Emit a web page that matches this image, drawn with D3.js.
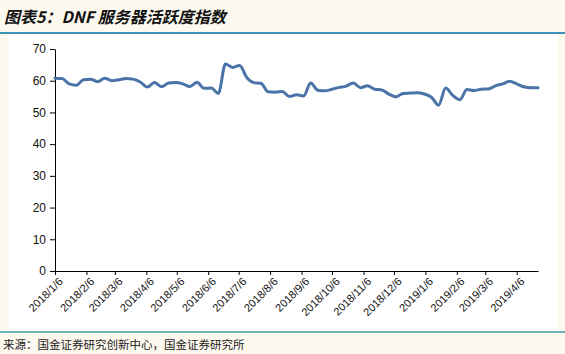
<!DOCTYPE html>
<html>
<head>
<meta charset="utf-8">
<script src="https://cdn.jsdelivr.net/npm/d3@7"></script>
<style>
  body { margin: 0; background: #fdf9ef; }
  svg { display: block; }
</style>
</head>
<body>
<div id="chart"></div>
<script>
// weekly series, starting 2018/1/6
const startDate = "2018-01-06";
const activity = [
  60.8, 60.7, 59.0, 58.6, 60.3, 60.5, 59.7, 60.8, 60.0, 60.3,
  60.7, 60.5, 59.6, 58.0, 59.4, 58.1, 59.3, 59.4, 59.0, 58.2,
  59.5, 57.6, 57.7, 56.0, 65.3, 64.2, 64.8, 61.0, 59.4, 59.2,
  56.5, 56.4, 56.6, 55.0, 55.6, 55.2, 59.3, 57.0, 56.8, 57.3,
  57.9, 58.3, 59.3, 57.8, 58.4, 57.3, 57.1, 55.8, 54.9, 56.0,
  56.1, 56.2, 55.8, 54.8, 52.3, 57.7, 55.4, 54.0, 57.2, 56.9,
  57.3, 57.4, 58.4, 59.0, 59.8, 59.0, 58.1, 57.8, 57.8
];
const xTicks = [
  "2018-01-06", "2018-02-06", "2018-03-06", "2018-04-06", "2018-05-06",
  "2018-06-06", "2018-07-06", "2018-08-06", "2018-09-06", "2018-10-06",
  "2018-11-06", "2018-12-06", "2019-01-06", "2019-02-06", "2019-03-06",
  "2019-04-06"
];
const yTicks = [0, 10, 20, 30, 40, 50, 60, 70];

const titleText = "图表5：DNF 服务器活跃度指数";
const sourceText = "来源：国金证券研究创新中心，国金证券研究所";

const width = 565, height = 354;
const margin = { top: 49, right: 27, bottom: 83, left: 55 };

const parse = d3.utcParse("%Y-%m-%d");
const t0 = parse(startDate);
const data = activity.map((v, i) => ({ date: d3.utcDay.offset(t0, i * 7), value: v }));
const tickDates = xTicks.map(parse);

const svg = d3.select("#chart").append("svg")
  .attr("width", width)
  .attr("height", height);

// white plot panel and header/footer rules
svg.append("rect")
  .attr("x", 9).attr("y", 34)
  .attr("width", 549).attr("height", 297)
  .attr("fill", "#ffffff");

svg.append("line")
  .attr("x1", 0).attr("x2", width)
  .attr("y1", 33).attr("y2", 33)
  .attr("stroke", "#3b93b8").attr("stroke-width", 2);
svg.append("line")
  .attr("x1", 0).attr("x2", width)
  .attr("y1", 332).attr("y2", 332)
  .attr("stroke", "#3a9fa6").attr("stroke-width", 1.5);

svg.append("text")
  .attr("x", 4).attr("y", 23)
  .attr("font-family", "'Noto Sans CJK SC', sans-serif")
  .attr("font-size", 16)
  .attr("font-weight", "bold")
  .attr("font-style", "italic")
  .attr("fill", "#111")
  .text(titleText);

svg.append("text")
  .attr("x", 3).attr("y", 349)
  .attr("font-family", "'Noto Sans CJK SC', sans-serif")
  .attr("font-size", 11.5)
  .attr("fill", "#222")
  .text(sourceText);

const x = d3.scaleUtc()
  .domain([t0, data[data.length - 1].date])
  .range([margin.left, width - margin.right]);

const y = d3.scaleLinear()
  .domain([0, 70])
  .range([height - margin.bottom, margin.top]);

// axes
const yAxis = svg.append("g")
  .attr("transform", `translate(${margin.left},0)`)
  .call(d3.axisLeft(y).tickValues(yTicks).tickSize(5).tickSizeOuter(0).tickPadding(4));
yAxis.select(".domain").attr("stroke", "#000");
yAxis.selectAll("text")
  .attr("font-family", "Arial, 'Liberation Sans', sans-serif")
  .attr("font-size", 12)
  .attr("fill", "#111");

const xAxis = svg.append("g")
  .attr("transform", `translate(0,${y(0)})`)
  .call(d3.axisBottom(x).tickValues(tickDates).tickSize(4).tickSizeOuter(0)
    .tickFormat(d3.utcFormat("%Y/%-m/%-d")));
xAxis.select(".domain").attr("stroke", "#000");
xAxis.selectAll("text")
  .attr("font-family", "Arial, 'Liberation Sans', sans-serif")
  .attr("font-size", 11)
  .attr("fill", "#111")
  .attr("text-anchor", "end")
  .attr("dx", "-0.2em")
  .attr("dy", "0.6em")
  .attr("transform", "rotate(-45)");

// series line
const line = d3.line()
  .x(d => x(d.date))
  .y(d => y(d.value))
  .curve(d3.curveMonotoneX);

svg.append("path")
  .datum(data)
  .attr("fill", "none")
  .attr("stroke", "#4a73a8")
  .attr("stroke-width", 3)
  .attr("stroke-linejoin", "round")
  .attr("stroke-linecap", "round")
  .attr("d", line);
</script>
</body>
</html>
